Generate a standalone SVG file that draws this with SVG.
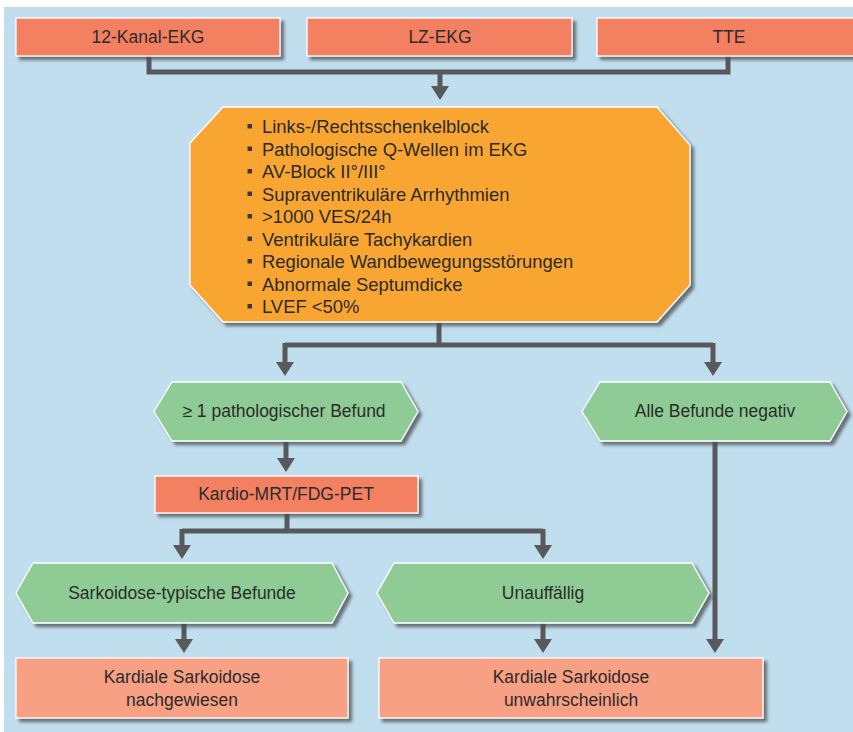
<svg xmlns="http://www.w3.org/2000/svg" width="853" height="732" viewBox="0 0 853 732">
<defs>
<filter id="sh" x="-10%" y="-10%" width="125%" height="130%">
<feDropShadow dx="3.5" dy="3.5" stdDeviation="1.5" flood-color="#4a4f55" flood-opacity="0.75"/>
</filter>
</defs>
<style>
.t{font-family:"Liberation Sans",Arial,sans-serif;font-size:17.5px;fill:#2b2b2b;text-anchor:middle}
.l{font-family:"Liberation Sans",Arial,sans-serif;font-size:18.4px;fill:#2b2b2b}
.box{fill:#F48062;stroke:#ffffff;stroke-width:1.3;filter:url(#sh)}
.res{fill:#F7A084;stroke:#ffffff;stroke-width:1.3;filter:url(#sh)}
.hex{fill:#8FCC95;stroke:#ffffff;stroke-width:1.3;filter:url(#sh)}
.oct{fill:#F9A533;stroke:#ffffff;stroke-width:1.3;filter:url(#sh)}
.c{fill:none;stroke:#58595B;stroke-width:5;stroke-linejoin:miter;stroke-linecap:butt}
.a{fill:#58595B}
.b{fill:#3a3a3a}
</style>
<rect x="0" y="0" width="853" height="732" fill="#ffffff"/>
<rect x="4" y="7" width="849" height="725" fill="#C1DEEE"/>

<g id="connectors">
<path class="c" d="M149,56 V72 H728 V56"/>
<path class="c" d="M440,72 V87"/>
<polygon class="a" points="431,86 449,86 440,100"/>
<path class="c" d="M439,322 V345 M285,345 H713 M285,343 V363 M713,343 V363"/>
<polygon class="a" points="276,362 294,362 285,376"/>
<polygon class="a" points="704,362 722,362 713,376"/>
<path class="c" d="M286,441 V459"/>
<polygon class="a" points="277,458 295,458 286,472"/>
<path class="c" d="M287,513 V531 M182,531 H543 M182,529 V546 M543,529 V546"/>
<polygon class="a" points="173,545 191,545 182,559"/>
<polygon class="a" points="534,545 552,545 543,559"/>
<path class="c" d="M184,623 V640"/>
<polygon class="a" points="175,639 193,639 184,653"/>
<path class="c" d="M543,623 V640"/>
<polygon class="a" points="534,639 552,639 543,653"/>
<path class="c" d="M715,441 V640"/>
<polygon class="a" points="706,639 724,639 715,653"/>
</g>

<g id="n-12kanal">
<rect class="box" x="16" y="18" width="264" height="38"/>
<text class="t" x="148" y="43">12-Kanal-EKG</text>
</g>
<g id="n-lzekg">
<rect class="box" x="307" y="18" width="265" height="38"/>
<text class="t" x="440" y="43">LZ-EKG</text>
</g>
<g id="n-tte">
<rect class="box" x="597" y="18" width="262" height="38"/>
<text class="t" x="729" y="43">TTE</text>
</g>

<g id="n-kriterien">
<polygon class="oct" points="223,107 657,107 690,145 690,285 657,322 223,322 190,285 190,143"/>
<g class="b">
<rect x="247.5" y="124" width="4.5" height="4.5"/>
<rect x="247.5" y="146.5" width="4.5" height="4.5"/>
<rect x="247.5" y="169" width="4.5" height="4.5"/>
<rect x="247.5" y="191.5" width="4.5" height="4.5"/>
<rect x="247.5" y="214" width="4.5" height="4.5"/>
<rect x="247.5" y="236.5" width="4.5" height="4.5"/>
<rect x="247.5" y="259" width="4.5" height="4.5"/>
<rect x="247.5" y="281.5" width="4.5" height="4.5"/>
<rect x="247.5" y="304" width="4.5" height="4.5"/>
</g>
<text class="l" x="262" y="133">Links-/Rechtsschenkelblock</text>
<text class="l" x="262" y="156">Pathologische Q-Wellen im EKG</text>
<text class="l" x="262" y="178">AV-Block II°/III°</text>
<text class="l" x="262" y="201">Supraventrikuläre Arrhythmien</text>
<text class="l" x="262" y="223">&gt;1000 VES/24h</text>
<text class="l" x="262" y="246">Ventrikuläre Tachykardien</text>
<text class="l" x="262" y="268">Regionale Wandbewegungsstörungen</text>
<text class="l" x="262" y="291">Abnormale Septumdicke</text>
<text class="l" x="262" y="313">LVEF &lt;50%</text>
</g>

<g id="n-pathol">
<polygon class="hex" points="172,382 401,382 418,411.5 401,441 172,441 154,411.5"/>
<text class="t" x="284" y="417">≥ 1 pathologischer Befund</text>
</g>
<g id="n-negativ">
<polygon class="hex" points="600,382 830,382 847,411.5 830,441 600,441 582,411.5"/>
<text class="t" x="715" y="417">Alle Befunde negativ</text>
</g>

<g id="n-mrt">
<rect class="box" x="155" y="476" width="263" height="37"/>
<text class="t" x="286" y="500">Kardio-MRT/FDG-PET</text>
</g>

<g id="n-typisch">
<polygon class="hex" points="33,563 332,563 348,593 332,623 33,623 16,593"/>
<text class="t" x="182" y="599">Sarkoidose-typische Befunde</text>
</g>
<g id="n-unauff">
<polygon class="hex" points="394,563 692,563 709,593 692,623 394,623 377,593"/>
<text class="t" x="543" y="599">Unauffällig</text>
</g>

<g id="n-nachgewiesen">
<rect class="res" x="16" y="658" width="332" height="60"/>
<text class="t" x="182" y="683">Kardiale Sarkoidose</text>
<text class="t" x="182" y="706">nachgewiesen</text>
</g>
<g id="n-unwahrscheinlich">
<rect class="res" x="379" y="658" width="384" height="60"/>
<text class="t" x="571" y="683">Kardiale Sarkoidose</text>
<text class="t" x="571" y="706">unwahrscheinlich</text>
</g>
</svg>
